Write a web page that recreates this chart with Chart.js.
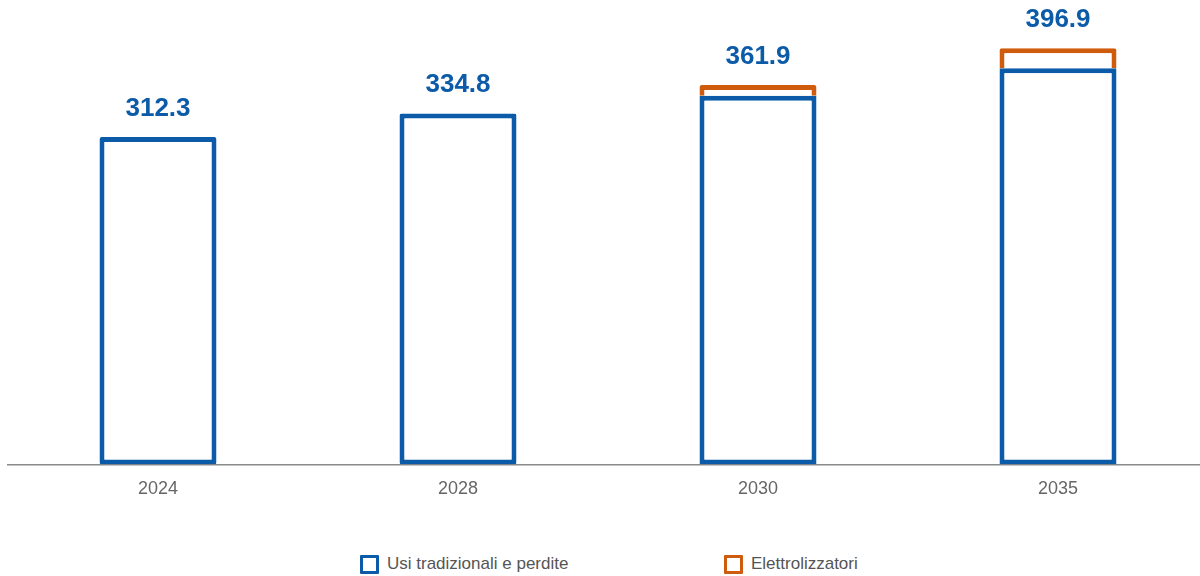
<!DOCTYPE html>
<html lang="it">
<head>
<meta charset="utf-8">
<title>Domanda elettrica</title>
<script src="https://cdn.jsdelivr.net/npm/chart.js@4.4.1/dist/chart.umd.min.js"></script>
<style>
    html, body { margin: 0; padding: 0; background: #fff; overflow: hidden; }
    body { width: 1200px; height: 576px; position: relative; font-family: "Liberation Sans", Arial, sans-serif; }
    #wrap { position: absolute; left: 0; top: 0; width: 1208px; height: 514px; }
    .legend-item { position: absolute; top: 554px; display: flex; align-items: center; font-size: 17px; color: #555; }
    .legend-box { width: 13px; height: 13px; border: 3px solid; border-radius: 1px; margin-right: 8px; }
</style>
</head>
<body>
<div id="wrap"><canvas id="domanda"></canvas></div>
<div class="legend-item" style="left:360px"><span class="legend-box" style="border-color:#0b5ba9"></span>Usi tradizionali e perdite</div>
<div class="legend-item" style="left:724px"><span class="legend-box" style="border-color:#cf5b0c"></span>Elettrolizzatori</div>
<script>
const anni = ['2024', '2028', '2030', '2035'];
const usiTradizionali = [312.3, 334.8, 351.6, 378.0];
const elettrolizzatori = [null, null, 10.3, 18.9];

const BLU = '#0b5ba9';
const ARANCIO = '#cf5b0c';

// totale sopra ogni colonna
const etichetteTotali = {
    id: 'etichetteTotali',
    afterDatasetsDraw(chart) {
        const ctx = chart.ctx;
        const y = chart.scales.y;
        const meta = chart.getDatasetMeta(0);
        ctx.save();
        ctx.font = 'bold 26px "Liberation Sans", Arial, sans-serif';
        ctx.fillStyle = BLU;
        ctx.textAlign = 'center';
        ctx.textBaseline = 'alphabetic';
        anni.forEach((anno, i) => {
            const totale = (usiTradizionali[i] || 0) + (elettrolizzatori[i] || 0);
            const x = meta.data[i].x;
            ctx.fillText(totale.toFixed(1), x, y.getPixelForValue(totale) - 21);
        });
        ctx.restore();
    }
};

new Chart(document.getElementById('domanda'), {
    type: 'bar',
    data: {
        labels: anni,
        datasets: [{
            label: 'Usi tradizionali e perdite',
            data: usiTradizionali,
            backgroundColor: '#ffffff',
            borderColor: BLU,
            borderWidth: 5,
            borderRadius: 2,
            borderSkipped: false,
            barPercentage: 0.39,
            categoryPercentage: 1
        }, {
            label: 'Elettrolizzatori',
            data: elettrolizzatori,
            backgroundColor: '#ffffff',
            borderColor: ARANCIO,
            borderWidth: 5,
            borderRadius: 2,
            barPercentage: 0.39,
            categoryPercentage: 1
        }]
    },
    options: {
        responsive: true,
        maintainAspectRatio: false,
        animation: false,
        layout: { padding: { left: 8, right: 0, top: 0, bottom: 0 } },
        plugins: {
            legend: { display: false },
            tooltip: { enabled: false }
        },
        scales: {
            x: {
                stacked: true,
                grid: { display: false, drawTicks: false },
                border: { display: true, color: '#8a8a8a', width: 1.5 },
                ticks: {
                    padding: 14,
                    color: '#666',
                    font: { family: '"Liberation Sans", Arial, sans-serif', size: 18 }
                }
            },
            y: {
                stacked: true,
                display: false,
                min: 0,
                max: 443
            }
        }
    },
    plugins: [etichetteTotali]
});
</script>
</body>
</html>
